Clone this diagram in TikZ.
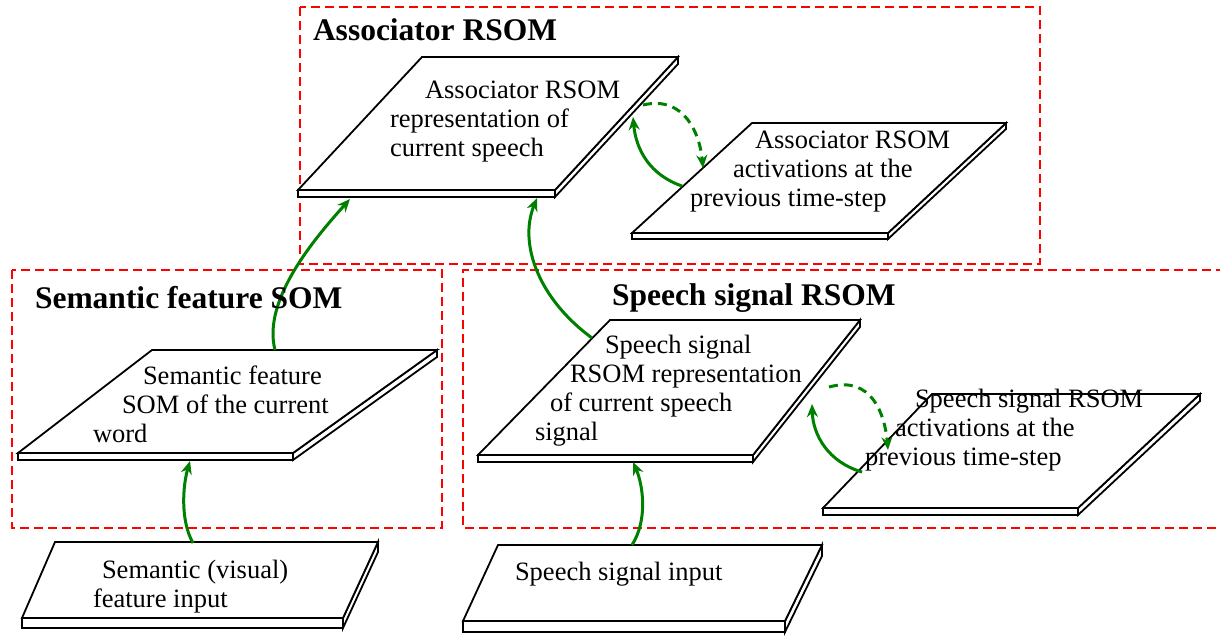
\documentclass[tikz,border=0pt]{standalone}
\usepackage{fontspec}
\setmainfont{Liberation Serif}
\usetikzlibrary{arrows.meta}

% one map layer: name, bottom-left x, bottom y, bottom-right x, top-left x, top y, top-right x, thickness
\newcommand{\maplayer}[8]{%
  \coordinate (#1-bl) at (#2,#3);
  \coordinate (#1-br) at (#4,#3);
  \coordinate (#1-tl) at (#5,#6);
  \coordinate (#1-tr) at (#7,#6);
  \path[slabline] (#1-bl) rectangle ({#4},{#3+#8});
  \path[slabline] (#1-br) -- (#1-tr) -- ({#7},{#6+#8}) -- ({#4},{#3+#8}) -- cycle;
  \path[slabline] (#1-bl) -- (#1-br) -- (#1-tr) -- (#1-tl) -- cycle;
}

\begin{document}
\begin{tikzpicture}[x=1pt,y=-1pt]
\definecolor{boxColor}{RGB}{255,0,0}
\definecolor{arrowColor}{RGB}{0,128,0}
\tikzset{
  groupbox/.style={draw=boxColor,line width=2.2pt,dash pattern=on 9pt off 5pt},
  slabline/.style={draw=black,line width=1.8pt,fill=white,line join=miter},
  feed/.style={draw=arrowColor,line width=3pt,-{Stealth[length=13pt,width=11pt]}},
  recur/.style={feed,dash pattern=on 9pt off 6pt},
  slabtext/.style={anchor=base west,inner sep=0pt,outer sep=0pt,align=left,
    font=\fontsize{26.5}{29}\selectfont},
  grouptitle/.style={anchor=base west,inner sep=0pt,outer sep=0pt,
    font=\fontsize{31.5}{34}\selectfont\bfseries}
}
\path[use as bounding box,fill=white] (0,0) rectangle (1220,635);

% group boxes
\path[groupbox] (300,7) rectangle (1040,264);
\path[groupbox] (12,270) rectangle (442,528);
\path[groupbox] (1225,270) -- (463,270) -- (463,528) -- (1225,528);

% map layers
\maplayer{assoc}{298}{190}{555}{422}{57}{678}{7}
\maplayer{assocPrev}{632}{233}{888}{752}{123}{1006}{6}
\maplayer{sem}{18}{453}{293}{152}{350}{437}{7}
\maplayer{speech}{478}{455}{753}{610}{320}{860}{7}
\maplayer{speechPrev}{823}{508}{1078}{932}{394}{1200}{7}
\maplayer{semIn}{22}{618}{343}{55}{542}{378}{10}
\maplayer{speechIn}{463}{621}{785}{498}{545}{822}{11}

% connector ends
\coordinate (semUp) at (275,350);
\coordinate (assocInSem) at (350,199);
\coordinate (speechUp) at (592,338);
\coordinate (assocInSpeech) at (537,198);
\coordinate (semInUp) at (193,543);
\coordinate (semInTo) at (190,461);
\coordinate (speechInUp) at (632,545);
\coordinate (speechInTo) at (633,462);
\coordinate (assocPrevOut) at (682,186);
\coordinate (assocBack) at (633,117);
\coordinate (assocOut) at (643,105);
\coordinate (assocPrevIn) at (703,168);
\coordinate (speechPrevOut) at (862,472);
\coordinate (speechBack) at (812,404);
\coordinate (speechOut) at (829,387);
\coordinate (speechPrevIn) at (888,450);

% feed-forward connections
\draw[feed] (semUp) .. controls (262,300) and (315,238) .. (assocInSem);
\draw[feed] (speechUp) .. controls (540,300) and (518,245) .. (assocInSpeech);
\draw[feed] (semInUp) .. controls (180,520) and (183,485) .. (semInTo);
\draw[feed] (speechInUp) .. controls (648,520) and (643,485) .. (speechInTo);

% recurrent connections
\draw[feed] (assocPrevOut) .. controls (650,175) and (636,150) .. (assocBack);
\draw[recur] (assocOut) .. controls (685,95) and (700,135) .. (assocPrevIn);
\draw[feed] (speechPrevOut) .. controls (828,462) and (813,435) .. (speechBack);
\draw[recur] (speechOut) .. controls (872,375) and (885,415) .. (speechPrevIn);

% titles
\node[grouptitle] (assocTitle) at (313,40) {Associator RSOM};
\node[grouptitle] (semTitle) at (35,308) {Semantic feature SOM};
\node[grouptitle] (speechTitle) at (612,305) {Speech signal RSOM};

% layer texts (placed at the baseline of the last line)
\node[slabtext] (assocText) at (390,156) {\hspace*{35pt}Associator RSOM\\representation of\\current speech};
\node[slabtext] (assocPrevText) at (690,206) {\hspace*{65pt}Associator RSOM\\\hspace*{43pt}activations at the\\previous time-step};
\node[slabtext] (semText) at (93,442) {\hspace*{50pt}Semantic feature\\\hspace*{29pt}SOM of the current\\word};
\node[slabtext] (speechText) at (535,440) {\hspace*{70pt}Speech signal\\\hspace*{35pt}RSOM representation\\\hspace*{15pt}of current speech\\signal};
\node[slabtext] (speechPrevText) at (865,465) {\hspace*{50pt}Speech signal RSOM\\\hspace*{30pt}activations at the\\previous time-step};
\node[slabtext] (semInText) at (93,607) {\hspace*{9pt}Semantic (visual)\\feature input};
\node[slabtext] (speechInText) at (515,580) {Speech signal input};
\end{tikzpicture}
\end{document}
